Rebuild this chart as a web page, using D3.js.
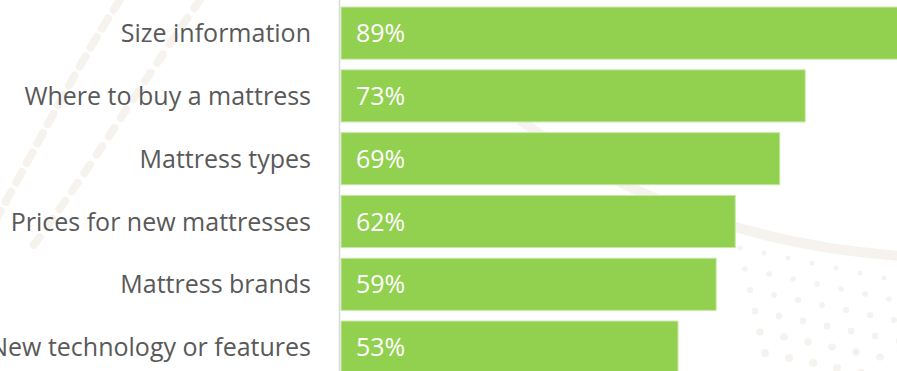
<!DOCTYPE html>
<html>
<head>
  <meta charset="utf-8" />
  <script src="https://cdn.jsdelivr.net/npm/d3@7"></script>
  <style>
    body { margin: 0; background: #fff; overflow: hidden; }
    svg { display: block; }
    .label { font-family: "Open Sans", sans-serif; fill: #595959; }
    .value { font-family: "Open Sans", sans-serif; fill: #fff; }
  </style>
</head>
<body>
  <svg id="chart" width="897" height="371"></svg>
  <script>
  // data
  var categories = ["Size information", "Where to buy a mattress", "Mattress types",
                    "Prices for new mattresses", "Mattress brands", "New technology or features"];
  var values = [89, 73, 69, 62, 59, 53];

  var svg = d3.select('#chart')
  var width = +svg.attr('width'), height = +svg.attr('height')

  // faint background decoration
  var bg = svg.append('g').attr('fill', '#f6f3ef').attr('stroke', '#f6f3ef')
  bg.append('path')
    .attr('d', 'M520,120 Q680,240 900,256')
    .attr('fill', 'none').attr('stroke-width', 10)
  bg.append('path')
    .attr('d', 'M120,0 C80,60 35,150 -10,230')
    .attr('fill', 'none').attr('stroke-width', 8).attr('stroke-dasharray', '12 10')
    .attr('stroke-linecap', 'round')
  bg.append('path')
    .attr('d', 'M200,0 C150,70 90,170 30,250')
    .attr('fill', 'none').attr('stroke-width', 8).attr('stroke-dasharray', '10 12')
    .attr('stroke-linecap', 'round')
  var dots = []
  for (var r = 0; r < 6; r++) {
    for (var k = 0; k < 8; k++) {
      dots.push([740 + k * 24 + r * 5, 248 + r * 21 + k * 5, 2.5 + r * 0.3])
    }
  }
  bg.selectAll('circle').data(dots).enter().append('circle')
    .attr('cx', function(d) { return d[0] })
    .attr('cy', function(d) { return d[1] })
    .attr('r', function(d) { return d[2] })
    .attr('stroke', 'none')

  var x = d3.scaleLinear().domain([0, 73]).range([340.5, 804.7])
  var y = d3.scaleBand().domain(categories).range([1.7, 378.5])
            .paddingInner(0.17).paddingOuter(0.085)

  var data = categories.map(function(c, i) { return {name: c, value: values[i]} })

  svg.append('g').selectAll('rect')
    .data(data).enter().append('rect')
    .attr('x', x(0) + 0.5)
    .attr('y', function(d) { return y(d.name) })
    .attr('width', function(d) { return x(d.value) - x(0) })
    .attr('height', y.bandwidth())
    .attr('fill', '#92d050')
    .attr('stroke', '#c8e8a6')
    .attr('stroke-width', 1)

  // axis line
  svg.append('line')
    .attr('x1', x(0) - 1).attr('x2', x(0) - 1)
    .attr('y1', 0).attr('y2', height)
    .attr('stroke', '#d9d9d9').attr('stroke-width', 1.5)

  svg.append('g').selectAll('text')
    .data(data).enter().append('text')
    .attr('class', 'label')
    .attr('x', 311)
    .attr('y', function(d) { return y(d.name) + y.bandwidth() / 2 })
    .attr('dy', '0.36em')
    .attr('text-anchor', 'end')
    .style('font-size', '25px')
    .text(function(d) { return d.name })

  svg.append('g').selectAll('text')
    .data(data).enter().append('text')
    .attr('class', 'value')
    .attr('x', 356)
    .attr('y', function(d) { return y(d.name) + y.bandwidth() / 2 })
    .attr('dy', '0.36em')
    .style('font-size', '25px')
    .text(function(d) { return d.value + '%' })
  </script>
</body>
</html>
